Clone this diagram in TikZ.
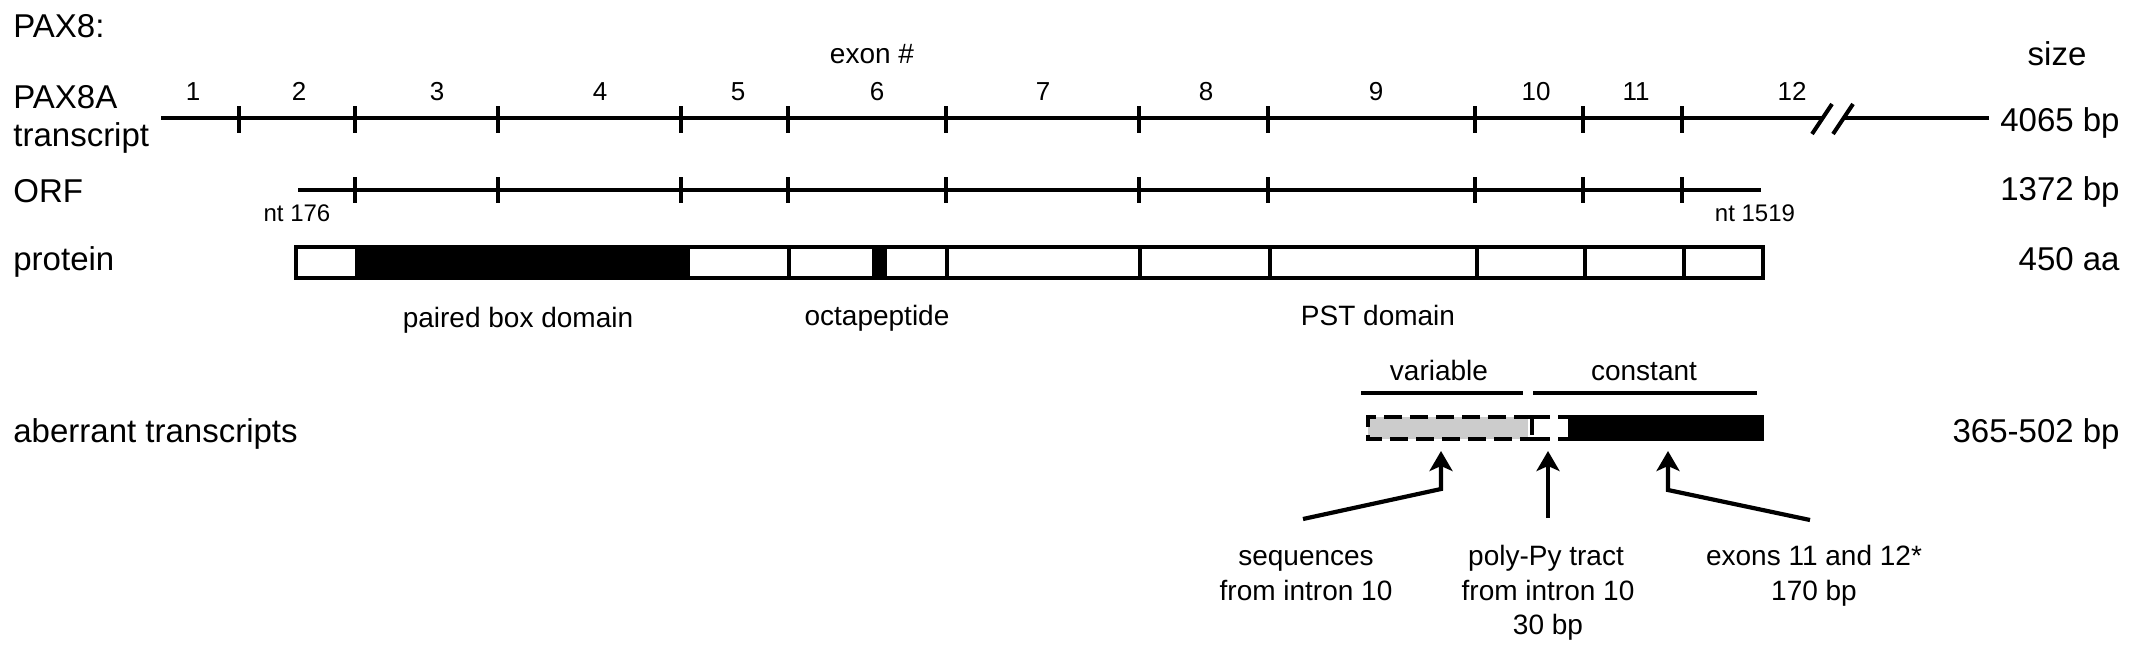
\documentclass[tikz,border=0pt]{standalone}
\usepackage{fontspec}
\setmainfont{Liberation Sans}
\usetikzlibrary{arrows.meta}
\begin{document}
\begin{tikzpicture}[x=0.5pt,y=-0.5pt,
  big/.style={font=\fontsize{16.5}{19}\selectfont, inner sep=0pt},
  small/.style={font=\fontsize{14}{17}\selectfont, inner sep=0pt, anchor=base},
  num/.style={font=\fontsize{13}{16}\selectfont, inner sep=0pt, anchor=base},
  tiny/.style={font=\fontsize{12}{14}\selectfont, inner sep=0pt, anchor=base},
  seq/.style={line width=2.1pt},
  tickmark/.style={line width=2.3pt},
  pbox/.style={line width=2.2pt},
  divline/.style={line width=1.7pt},
  bar/.style={line width=2.1pt},
  dashbox/.style={line width=2.1pt, dash pattern=on 9pt off 4pt},
  arr/.style={line width=2.1pt, -{Stealth[length=10pt,width=11.5pt,inset=2.5pt]}},
]
\useasboundingbox (0,0) rectangle (2136,653);
\fill[white] (0,0) rectangle (2136,653);

% left labels
\node[big, anchor=base west] (pax8) at (13,37) {PAX8:};
\node[big, anchor=base west] (pax8a) at (13,108) {PAX8A};
\node[big, anchor=base west] (trl) at (13,146) {transcript};
\node[big, anchor=base west] (orfl) at (13,202) {ORF};
\node[big, anchor=base west] (protl) at (13,270) {protein};
\node[big, anchor=base west] (aberl) at (13,442) {aberrant transcripts};

% right labels
\node[big, anchor=base] (size) at (2057,65) {size};
\node[big, anchor=base east] (s1) at (2120,131) {4065 bp};
\node[big, anchor=base east] (s2) at (2120,200) {1372 bp};
\node[big, anchor=base east] (s3) at (2120,270) {450 aa};
\node[big, anchor=base east] (s4) at (2120,442) {365-502 bp};

% exon labels
\node[small] (exon) at (872,63) {exon \#};
\foreach \n/\x in {1/193,2/299,3/437,4/600,5/738,6/877,7/1043,8/1206,9/1376,10/1536,11/1636,12/1792}
  \node[num] (e\n) at (\x,100) {\n};

% transcript
\draw[seq] (161,118) -- (1822,118);
\draw[seq] (1843,118) -- (1989,118);
\draw[line width=2pt] (1812,134) -- (1832,104);
\draw[line width=2pt] (1833,134) -- (1853,104);
\foreach \x in {239,355,498,681,788,946,1139,1268,1475,1583,1682}
  \draw[tickmark] (\x,106) -- (\x,133);

% ORF
\draw[seq] (298,190) -- (1761,190);
\foreach \x in {355,498,681,788,946,1139,1268,1475,1583,1682}
  \draw[tickmark] (\x,177) -- (\x,203);
\node[tiny] (nt1) at (297,221) {nt 176};
\node[tiny] (nt2) at (1755,221) {nt 1519};

% protein
\fill[black] (355,247) rectangle (690,278);
\fill[black] (872,247) rectangle (887,278);
\foreach \x in {789,947,1140,1270,1477,1585,1684}
  \draw[divline] (\x,247) -- (\x,278);
\draw[pbox] (296,247) rectangle (1763,278);

\node[small] (pbd) at (518,327) {paired box domain};
\node[small] (octa) at (877,325) {octapeptide};
\node[small] (pst) at (1378,325) {PST domain};

% aberrant transcripts
\node[small] (varl) at (1439,380) {variable};
\node[small] (conl) at (1644,380) {constant};
\draw[bar] (1361,393) -- (1523,393);
\draw[bar] (1533,393) -- (1757,393);

\fill[black!20] (1368,417) rectangle (1528,439);
\fill[black] (1568,415) rectangle (1764,441);
\draw[dashbox] (1532,417) -- (1368,417) -- (1368,439) -- (1532,439);
\draw[dashbox] (1532,417) -- (1532,439);
\draw[dashbox] (1532,417) -- (1569,417);
\draw[dashbox] (1532,439) -- (1569,439);

% arrows
\coordinate (a1s) at (1303,519);
\coordinate (a1b) at (1441,489);
\coordinate (a1t) at (1441,451);
\coordinate (a2s) at (1548,518);
\coordinate (a2t) at (1548,451);
\coordinate (a3s) at (1810,520);
\coordinate (a3b) at (1668,490);
\coordinate (a3t) at (1668,451);
\draw[arr] (a1s) -- (a1b) -- (a1t);
\draw[arr] (a2s) -- (a2t);
\draw[arr] (a3s) -- (a3b) -- (a3t);

\node[small] (t1a) at (1306,565) {sequences};
\node[small] (t1b) at (1306,600) {from intron 10};
\node[small] (t2a) at (1546,565) {poly-Py tract};
\node[small] (t2b) at (1548,600) {from intron 10};
\node[small] (t2c) at (1548,634) {30 bp};
\node[small] (t3a) at (1814,565) {exons 11 and 12*};
\node[small] (t3b) at (1814,600) {170 bp};
\end{tikzpicture}
\end{document}
